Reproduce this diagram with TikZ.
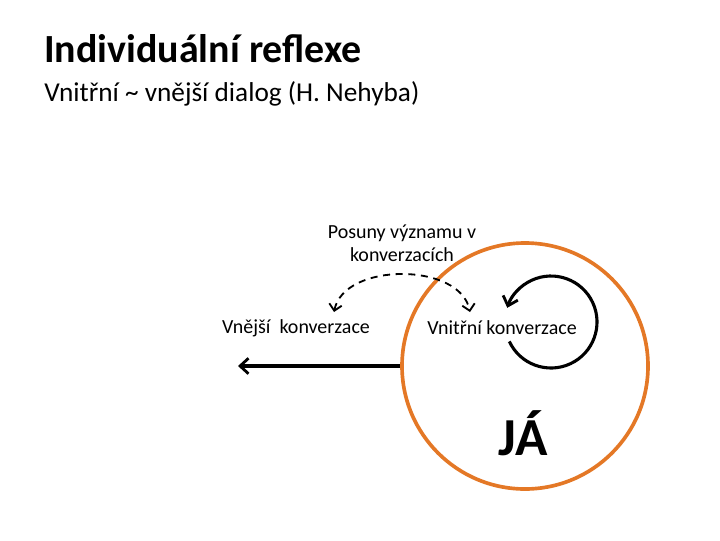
\documentclass[tikz,border=0pt]{standalone}
\usepackage{fontspec}
\setmainfont{Carlito}
\usepackage{xcolor}
\usepackage{tikz}
\usetikzlibrary{arrows.meta, positioning}
\definecolor{jaorange}{RGB}{228,120,38}
\tikzset{
	label text/.style={font=\fontsize{14.2}{16}\selectfont, align=center, inner sep=0pt},
	black arrow/.style={line width=2.5pt, -{Straight Barb[length=6pt, width=11pt, line width=2pt]}},
}

\begin{document}
\begin{tikzpicture}[x=0.025cm, y=0.025cm, transform shape]
			% Frame and titles:
			\useasboundingbox (0, 0) rectangle (720, -540);
			\node[anchor=base west, inner sep=0pt, font=\fontsize{28.4}{32}\selectfont\bfseries] (title) at (44, -62) {Individuální reflexe};
			\node[anchor=base west, inner sep=0pt, font=\fontsize{19.4}{22}\selectfont] (subtitle) at (44, -101) {Vnitřní \textasciitilde{} vnější dialog (H. Nehyba)};
			% Self circle and labels:
			\node[circle, draw=jaorange, line width=2.6pt, minimum size=246*0.025cm] (ja) at (525, -366) {};
			\node[font=\fontsize{38}{40}\selectfont\bfseries, inner sep=0pt] (jatext) at (523, -433) {JÁ};
			\node[label text] (shift) at (402, -243) {Posuny významu v\\konverzacích};
			\node[label text] (outer) at (296, -328) {Vnější\ \ konverzace};
			\node[label text] (inner) at (502, -328) {Vnitřní konverzace};
			% Arrows:
			\coordinate (outend) at (238, -366);
			\draw[black arrow] (ja.west) -- (outend);
			\coordinate (loop) at (551, -322);
			\draw[black arrow, line width=2.2pt] (loop) ++(-155:46) arc[start angle=-155, end angle=162, radius=46];
			\draw[dashed, line width=1.3pt, dash pattern=on 5pt off 4pt, {Straight Barb[length=4.5pt, width=9pt, line width=1.3pt]}-{Straight Barb[length=4.5pt, width=9pt, line width=1.3pt]}]
				(334, -312) .. controls (344, -262) and (460, -262) .. (470, -312);
		\end{tikzpicture}
\end{document}
